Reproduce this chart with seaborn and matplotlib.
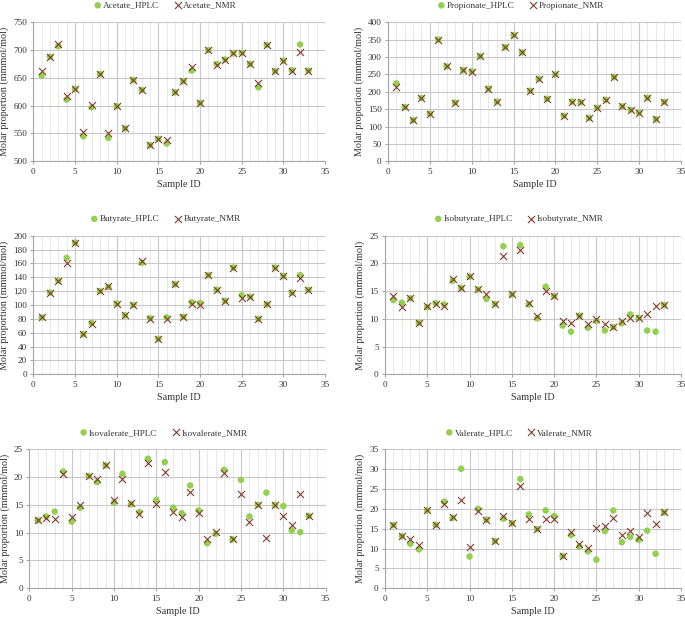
import numpy as np
import pandas as pd
import matplotlib
matplotlib.use("Agg")
import matplotlib.pyplot as plt
import seaborn as sns
from matplotlib.ticker import MultipleLocator

sample_id = list(range(1, 34))

acetate_hplc = [654, 688, 707, 611, 630, 545, 597, 657, 542, 599, 559, 646, 628, 529, 540, 532,
                624, 644, 663, 605, 700, 675, 683, 694, 695, 675, 633, 709, 662, 681, 664, 710, 663]
acetate_nmr = [662, 688, 711, 617, 630, 552, 602, 657, 550, 599, 559, 646, 628, 530, 540, 538,
               624, 644, 669, 605, 700, 673, 683, 695, 695, 675, 640, 709, 662, 681, 662, 697, 663]

propionate_hplc = [224, 156, 118, 182, 137, 350, 273, 169, 262, 259, 302, 209, 172, 328, 363, 313,
                   203, 237, 180, 250, 131, 172, 170, 125, 154, 177, 242, 158, 148, 140, 183, 121, 171]
propionate_nmr = [214, 156, 118, 182, 137, 350, 273, 169, 262, 257, 302, 209, 172, 328, 363, 313,
                  203, 237, 180, 250, 131, 172, 170, 125, 154, 177, 242, 158, 148, 140, 181, 121, 171]

butyrate_hplc = [82, 118, 135, 168, 190, 58, 74, 120, 126, 102, 85, 100, 161, 81, 51, 82,
                 130, 83, 104, 103, 143, 122, 106, 154, 114, 112, 80, 101, 154, 142, 118, 143, 122]
butyrate_nmr = [82, 118, 135, 160, 190, 58, 73, 120, 128, 102, 85, 100, 164, 80, 51, 80,
                130, 83, 102, 100, 143, 122, 106, 154, 110, 112, 80, 101, 154, 142, 118, 139, 122]

isobutyrate_hplc = [13.4, 12.9, 13.7, 9.3, 12.1, 12.8, 12.6, 16.9, 15.6, 17.6, 15.3, 13.6, 12.7, 23.1, 14.4, 23.3,
                    12.6, 10.1, 15.8, 14.1, 8.8, 7.7, 10.6, 8.4, 9.6, 7.9, 8.5, 9.2, 10.8, 10.2, 7.9, 7.7, 12.5]
isobutyrate_nmr = [14.2, 12.1, 13.7, 9.3, 12.3, 12.6, 12.4, 17.2, 15.6, 17.7, 15.3, 14.5, 12.7, 21.3, 14.4, 22.4,
                   12.8, 10.5, 15.0, 14.1, 9.6, 9.3, 10.6, 9.0, 10.0, 9.0, 8.6, 9.7, 10.1, 10.2, 10.9, 12.4, 12.5]

isovalerate_hplc = [12.2, 12.9, 13.8, 21.0, 12.0, 14.5, 20.2, 19.1, 22.1, 15.4, 20.6, 15.1, 13.7, 23.3, 15.9, 22.7,
                    14.5, 13.5, 18.5, 14.0, 8.1, 9.8, 21.3, 8.8, 19.5, 12.9, 15.0, 17.2, 15.0, 14.8, 10.4, 10.1, 13.0]
isovalerate_nmr = [12.3, 12.6, 12.5, 20.5, 12.9, 15.0, 20.2, 19.7, 22.1, 15.8, 19.7, 15.4, 13.4, 22.5, 15.2, 20.9,
                   13.7, 12.9, 17.4, 13.6, 8.9, 10.1, 20.8, 8.8, 17.0, 12.0, 15.0, 9.1, 15.0, 13.0, 11.3, 16.9, 13.0]

valerate_hplc = [15.9, 13.1, 11.2, 9.8, 19.6, 16.0, 21.8, 17.7, 30.1, 8.0, 20.0, 17.3, 11.9, 17.5, 16.4, 27.5,
                 18.6, 14.9, 19.6, 18.2, 8.1, 13.4, 10.5, 9.3, 7.2, 14.4, 19.6, 11.6, 12.9, 12.2, 14.5, 8.7, 19.1]
valerate_nmr = [15.9, 13.1, 12.4, 10.9, 19.6, 16.0, 21.1, 18.0, 22.3, 10.3, 19.4, 17.1, 11.9, 18.2, 16.4, 25.7,
                17.4, 14.9, 17.5, 17.5, 8.1, 14.1, 11.2, 10.1, 15.1, 15.8, 17.7, 13.4, 14.5, 12.9, 18.9, 16.1, 19.1]

panels = [
    ("Acetate", acetate_hplc, acetate_nmr, (500, 750), 50),
    ("Propionate", propionate_hplc, propionate_nmr, (0, 400), 50),
    ("Butyrate", butyrate_hplc, butyrate_nmr, (0, 200), 20),
    ("Isobutyrate", isobutyrate_hplc, isobutyrate_nmr, (0, 25), 5),
    ("Isovalerate", isovalerate_hplc, isovalerate_nmr, (0, 25), 5),
    ("Valerate", valerate_hplc, valerate_nmr, (0, 35), 5),
]

sns.set_style("white")
plt.rcParams['font.family'] = ['Liberation Serif', 'DejaVu Serif']

fig = plt.figure(figsize=(6.85, 6.18), dpi=100)

positions = [
    (0.0486, 0.739, 0.426, 0.225),
    (0.5664, 0.739, 0.4277, 0.225),
    (0.0486, 0.3943, 0.426, 0.2243),
    (0.562, 0.3943, 0.4321, 0.2243),
    (0.0428, 0.0481, 0.4326, 0.2249),
    (0.562, 0.0481, 0.4321, 0.2249),
]

green = "#92D050"
brown = "#843C2A"
FS_TICK = 6.6
FS_LAB = 7.3

for (name, hplc, nmr, ylim, ystep), pos in zip(panels, positions):
    ax = fig.add_axes(pos)
    df = pd.DataFrame({"Sample ID": sample_id + sample_id,
                       "value": hplc + nmr,
                       "series": [f"{name}_HPLC"] * 33 + [f"{name}_NMR"] * 33})
    sns.scatterplot(data=df[df.series == f"{name}_HPLC"], x="Sample ID", y="value",
                    color=green, marker="o", s=22, edgecolor="none", linewidth=0,
                    label=f"{name}_HPLC", ax=ax, zorder=3)
    sns.scatterplot(data=df[df.series == f"{name}_NMR"], x="Sample ID", y="value",
                    color=brown, marker="x", s=26, linewidth=0.8,
                    label=f"{name}_NMR", ax=ax, zorder=4)
    ax.set_xlim(0, 35)
    ax.set_ylim(*ylim)
    ax.xaxis.set_major_locator(MultipleLocator(5))
    ax.xaxis.set_minor_locator(MultipleLocator(1))
    ax.yaxis.set_major_locator(MultipleLocator(ystep))
    ax.grid(True, which="major", axis="both", color="#C8C8C8", linewidth=0.8)
    ax.grid(True, which="minor", axis="x", color="#E4E4E4", linewidth=0.6)
    ax.set_axisbelow(True)
    for side in ["top", "right"]:
        ax.spines[side].set_visible(False)
    for side in ["left", "bottom"]:
        ax.spines[side].set_color("#A6A6A6")
        ax.spines[side].set_linewidth(0.8)
    ax.tick_params(axis="both", which="major", length=2.5, width=0.8, color="#A6A6A6",
                   labelsize=FS_TICK, pad=2, direction="out", bottom=True, left=True,
                   labelcolor="#333333")
    ax.tick_params(axis="both", which="minor", length=0)
    ax.set_xlabel("Sample ID", fontsize=FS_LAB, labelpad=3, color="#333333")
    ax.set_ylabel("Molar proportion (mmmol/mol)", fontsize=FS_LAB, labelpad=3, color="#333333")
    leg = ax.legend(loc="center", bbox_to_anchor=(0.45, 1.12), ncol=2, frameon=False,
                    fontsize=FS_TICK, handletextpad=0.0, columnspacing=1.4, borderaxespad=0,
                    handlelength=1.2, markerscale=1.0)
    for t in leg.get_texts():
        t.set_color("#333333")

fig.savefig("out.png", dpi=100)
